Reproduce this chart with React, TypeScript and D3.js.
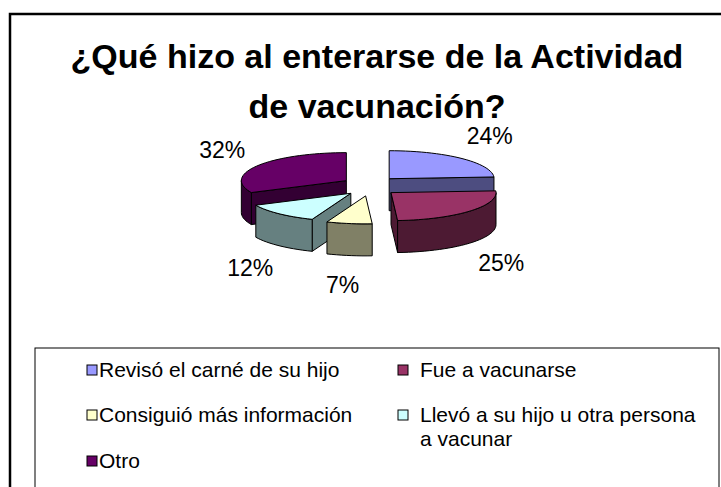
import React from "react";
import * as d3 from "d3";

const categories = [
  "Revisó el carné de su hijo",
  "Fue a vacunarse",
  "Consiguió más información",
  "Llevó a su hijo u otra persona a vacunar",
  "Otro",
];
const legendLines = [
  ["Revisó el carné de su hijo"],
  ["Fue a vacunarse"],
  ["Consiguió más información"],
  ["Llevó a su hijo u otra persona", "a vacunar"],
  ["Otro"],
];
const values = [24, 25, 7, 12, 32];
const valueLabels = ["24%", "25%", "7%", "12%", "32%"];
const topColors = ["#9999FF", "#993366", "#FFFFCC", "#CCFFFF", "#660066"];
const sideColors = ["#4D4D80", "#4D1A33", "#808066", "#668080", "#330033"];
const titleLines = ["¿Qué hizo al enterarse de la Actividad", "de vacunación?"];

const W = 721;
const H = 487;
const FONT = "'Liberation Sans', Arial, sans-serif";

export default function App() {
  const cx = 370;
  const cy = 186;
  const rx = 105;
  const ry = 28;
  const depth = 32;
  const exX = 28;
  const exY = 10;

  const pie = d3
    .pie<number>()
    .sort(null)
    .value((d) => d)
    .startAngle(0)
    .endAngle(Math.PI * 2);
  const arcs = pie(values);

  const line = d3.line<[number, number]>();

  const slices = arcs.map((a, i) => {
    const mid = (a.startAngle + a.endAngle) / 2;
    const tx = cx + exX * Math.sin(mid);
    const ty = cy - exY * Math.cos(mid);
    const pt = (ang: number, dy = 0): [number, number] => [
      tx + rx * Math.sin(ang),
      ty - ry * Math.cos(ang) + dy,
    ];
    const arcPts = (a0: number, a1: number, dy = 0) => {
      const n = Math.max(2, Math.ceil(((a1 - a0) / (Math.PI * 2)) * 120));
      return d3.range(n + 1).map((k) => pt(a0 + ((a1 - a0) * k) / n, dy));
    };
    const top =
      line([[tx, ty], ...arcPts(a.startAngle, a.endAngle)] as [number, number][]) + "Z";
    const faces: string[] = [];
    const radial = (ang: number) =>
      line([[tx, ty], pt(ang), pt(ang, depth), [tx, ty + depth]]) + "Z";
    if (Math.sin(a.startAngle) < -1e-6) faces.push(radial(a.startAngle));
    if (Math.sin(a.endAngle) > 1e-6) faces.push(radial(a.endAngle));
    const w0 = Math.max(a.startAngle, Math.PI / 2);
    const w1 = Math.min(a.endAngle, (Math.PI * 3) / 2);
    if (w1 > w0) {
      const upper = arcPts(w0, w1);
      const lower = arcPts(w0, w1, depth).reverse();
      faces.push(line([...upper, ...lower]) + "Z");
    }
    // label position on an outer ellipse, pushed down by the depth for front slices
    const s = Math.sin(mid);
    const c = Math.cos(mid);
    const lx = cx + 175 * s;
    const ly = cy - 68 * c + (c < 0 ? depth : 0);
    return { i, mid, top, faces, lx, ly, label: valueLabels[i] };
  });

  const order = [...slices].sort((p, q) => -Math.cos(p.mid) - -Math.cos(q.mid));

  const colX = [87, 398];
  const textGap = [12, 22];
  const rowY = [377, 422, 468];

  return (
    <svg
      width={W}
      height={H}
      style={{ position: "absolute", left: 0, top: 0, background: "#fff" }}
      fontFamily={FONT}
    >
      <rect x={0} y={0} width={W} height={H} fill="#fff" />
      <rect x={10} y={14} width={W + 20} height={H + 20} fill="none" stroke="#000" strokeWidth={2.5} />
      <text x={377} y={68} textAnchor="middle" fontSize={34} fontWeight="bold" fill="#000">
        {titleLines[0]}
      </text>
      <text x={377} y={118} textAnchor="middle" fontSize={34} fontWeight="bold" fill="#000">
        {titleLines[1]}
      </text>

      <g stroke="#000" strokeWidth={1} strokeLinejoin="round">
        {order.map((sl) => (
          <g key={sl.i}>
            {sl.faces.map((f, k) => (
              <path key={k} d={f} fill={sideColors[sl.i]} />
            ))}
            <path d={sl.top} fill={topColors[sl.i]} />
          </g>
        ))}
      </g>

      {slices.map((sl) => (
        <text
          key={"l" + sl.i}
          x={sl.lx}
          y={sl.ly + 8}
          textAnchor="middle"
          fontSize={23}
          fill="#000"
        >
          {sl.label}
        </text>
      ))}

      <rect x={35} y={348} width={684} height={H} fill="#fff" stroke="#000" strokeWidth={1} />
      {categories.map((cat, i) => {
        const col = i % 2;
        const row = Math.floor(i / 2);
        const sx = colX[col];
        const by = rowY[row];
        return (
          <g key={cat}>
            <rect x={sx} y={by - 12} width={10} height={10} fill={topColors[i]} stroke="#000" strokeWidth={1} />
            <text x={sx + textGap[col]} y={by} fontSize={21} fill="#000">
              {legendLines[i].map((ln, k) => (
                <tspan key={k} x={sx + textGap[col]} dy={k === 0 ? 0 : 23.5}>
                  {ln}
                </tspan>
              ))}
            </text>
          </g>
        );
      })}
    </svg>
  );
}
